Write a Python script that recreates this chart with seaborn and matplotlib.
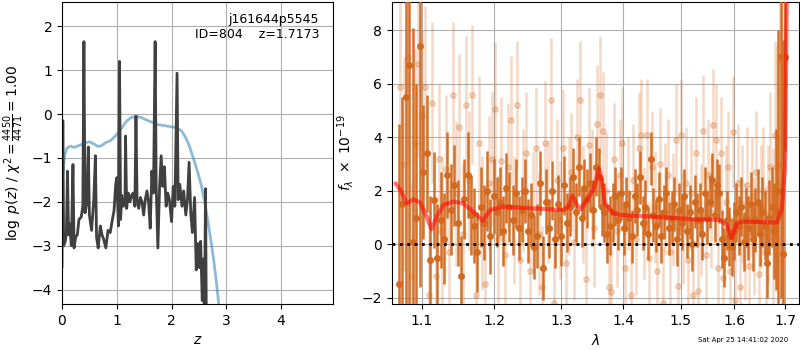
import numpy as np
import matplotlib
matplotlib.use("Agg")
import matplotlib.pyplot as plt
from matplotlib.ticker import NullLocator
import seaborn as sns

# p(z) curve (black) and chi2 curve (blue), left panel
pz_z = [0.00, 0.015, 0.03, 0.06, 0.08, 0.10, 0.12, 0.14, 0.17, 0.20, 0.22, 0.25, 0.28, 0.31,
        0.35, 0.38, 0.40, 0.42, 0.45, 0.48, 0.50, 0.54, 0.58, 0.61, 0.63, 0.66, 0.70, 0.73,
        0.76, 0.80, 0.84, 0.88, 0.92, 0.95, 0.98, 1.00, 1.03, 1.05, 1.07, 1.09, 1.12, 1.15,
        1.16, 1.18, 1.21, 1.24, 1.27, 1.30, 1.33, 1.35, 1.37, 1.40, 1.43, 1.46, 1.49, 1.52,
        1.55, 1.58, 1.61, 1.64, 1.67, 1.70, 1.72, 1.75, 1.78, 1.81, 1.84, 1.87, 1.90, 1.93,
        1.96, 2.00, 2.03, 2.06, 2.10, 2.12, 2.15, 2.19, 2.22, 2.26, 2.29, 2.32, 2.35, 2.38,
        2.42, 2.45, 2.48, 2.51, 2.53, 2.56, 2.58, 2.60, 2.62, 2.64, 2.67, 2.72]
pz_logp = [-3.5, -0.15, -3.0, -2.9, -2.7, -1.3, -2.75, -2.5, -3.0, -1.15, -3.05, -2.8, -2.75, -2.4,
           -2.35, -2.1, 1.65, -2.25, -2.05, -0.75, -2.3, -2.65, -1.95, -0.95, -2.8, -3.05, -2.55, -2.75,
           -2.85, -3.05, -2.65, -2.7, -2.4, -2.2, -1.6, -1.45, -2.55, 1.2, -2.4, -1.85, -2.1, -1.95,
           -0.5, -2.15, -1.8, -2.0, -1.85, -1.8, -2.1, -0.05, -1.95, -2.15, -1.9, -2.0, -2.3, -1.95,
           -1.75, -2.0, -2.6, -1.3, -1.8, 1.65, -1.7, -3.05, -1.7, -0.95, -1.65, -1.2, -2.1, -1.8,
           -1.95, -2.45, -1.65, -2.1, 0.93, -1.95, -1.6, -2.1, -1.75, -2.3, -1.95, -1.1, -2.25, -2.7,
           -1.9, -3.55, -2.95, -3.5, -2.9, -4.25, -3.3, -4.7, -1.7, -6.0, -9.0, -14.0]

chi_z = [0.0, 0.02, 0.05, 0.08, 0.12, 0.16, 0.22, 0.30, 0.40, 0.50, 0.58, 0.66, 0.72, 0.80,
         0.88, 0.95, 1.03, 1.10, 1.18, 1.26, 1.35, 1.45, 1.55, 1.65, 1.75, 1.85, 1.95, 2.05,
         2.13, 2.19, 2.25, 2.31, 2.37, 2.43, 2.49, 2.55, 2.61, 2.67, 2.72, 2.77, 2.82, 2.86,
         2.90, 2.95]
chi_val = [-1.5, -1.32, -0.95, -0.8, -0.75, -0.73, -0.76, -0.72, -0.67, -0.63, -0.68, -0.74, -0.72, -0.65,
           -0.61, -0.53, -0.42, -0.3, -0.16, -0.08, -0.05, -0.08, -0.14, -0.19, -0.24, -0.26, -0.28, -0.30,
           -0.34, -0.40, -0.52, -0.68, -0.9, -1.13, -1.38, -1.66, -2.05, -2.5, -2.9, -3.33, -3.85, -4.32,
           -4.8, -5.4]

# spectrum, right panel: two grism exposures (dark and light) and the model
dark_range = [1.070, 1.7002]
dark_flux = [-1.5, 1.5, 5.5, 6.7, 0.1, 1.0, 7.4, 2.7, 3.4, -0.6,
             1.65, -0.5, 0.9, 0.2, 2.6, 1.3, 2.2, 0.8, -1.2, 1.7,
             2.6, 1.1, 0.7, -0.3, 1.4, 0.8, 2.0, 0.3, 1.8, 1.2,
             1.6, 0.5, 2.1, 1.4, 0.9, 1.9, 0.6, 1.3, 2.0, 0.5,
             1.1, -0.1, 0.3, 2.3, -0.9, 1.6, 0.6, 2.0, 0.2, 1.5,
             0.3, 2.2, 0.8, 1.4, 2.5, 1.2, 2.9, 1.0, 2.1, 1.7,
             2.3, 1.3, 2.9, 2.5, 1.4, 1.2, 0.4, 0.7, 1.2, 1.8,
             0.9, 1.9, 0.6, 1.5, 1.0, 0.3, 1.8, 1.3, 2.5, 0.8,
             1.4, 0.4, 3.2, 1.1, 0.7, 1.7, 0.3, 1.2, 1.9, 0.6,
             1.0, 1.5, 0.2, 1.3, 0.8, 1.8, 0.5, 1.2, 0.0, 1.6,
             0.9, 1.3, 0.4, 1.9, 1.0, 1.6, 2.4, 1.1, 2.2, 1.9,
             0.2, -0.5, 0.9, 0.3, -0.1, 0.5, 1.2, 0.7, 1.4, 0.1,
             1.0, 0.6, 1.5, 0.2, 0.9, 1.6, 0.4, 1.2, 0.7, -0.7,
             1.0, 1.4, 0.5, 1.3, 2.0, 7.0, -0.35, 7.0]
dark_err = [6.0, 4.0, 9.0, 9.0, 8.0, 5.0, 9.0, 2.5, 2.2, 2.4,
            1.8, 2.0, 1.8, 1.7, 1.6, 1.7, 1.5, 1.6, 1.5, 1.5,
            1.6, 1.5, 1.4, 1.5, 1.5, 1.4, 1.5, 1.4, 1.4, 1.3,
            1.3, 1.3, 1.3, 1.3, 1.3, 1.3, 1.2, 1.2, 1.2, 1.2,
            1.2, 1.2, 1.2, 1.2, 1.2, 1.2, 1.1, 1.1, 1.1, 1.1,
            1.1, 1.1, 1.1, 1.1, 1.1, 1.1, 1.1, 1.1, 1.1, 1.1,
            1.1, 1.1, 1.1, 1.1, 1.1, 1.1, 1.1, 1.1, 1.1, 1.1,
            1.1, 1.0, 1.0, 1.0, 1.0, 1.0, 1.0, 1.0, 1.0, 1.0,
            1.0, 1.0, 1.0, 1.0, 1.0, 1.0, 1.0, 1.0, 1.0, 1.0,
            1.0, 1.0, 1.0, 1.0, 1.0, 1.0, 1.0, 1.0, 1.0, 1.0,
            1.0, 1.0, 1.0, 1.0, 1.0, 1.0, 1.0, 1.0, 1.0, 1.1,
            1.1, 1.1, 1.1, 1.1, 1.1, 1.1, 1.1, 1.1, 1.1, 1.1,
            1.1, 1.2, 1.2, 1.2, 1.2, 1.2, 1.2, 1.3, 1.3, 1.3,
            1.4, 1.5, 1.8, 3.0, 6.0, 9.0, 8.0, 3.5]

light_range = [1.0723, 1.6933]
light_flux = [5.9, 3.0, 7.0, -1.2, 3.8, 6.75, 4.8, 5.9, -1.9, 5.3,
              -1.2, 3.2, 0.5, 2.8, -0.3, 5.6, 1.9, 4.4, 0.4, 5.2,
              2.4, 5.6, -1.9, 3.8, 0.8, -1.5, 2.3, 3.2, 5.05, 0.2,
              3.1, -0.4, 2.9, 4.65, 0.9, 5.2, -0.6, 2.0, 3.4, -1.0,
              1.2, 3.6, 0.4, -1.6, 3.8, 1.6, 5.4, -2.2, 2.4, 0.9,
              3.6, -0.7, 1.8, 2.7, 0.1, 4.0, 5.4, 1.5, -1.3, 3.7,
              2.1, 0.6, 4.5, 5.6, 4.25, 2.0, -1.6, -1.8, 3.2, 0.5,
              2.6, 3.8, -0.9, 1.9, -1.9, 2.4, 0.2, 3.6, 4.1, 0.8,
              4.1, -0.5, 2.9, 1.4, -1.0, 3.0, -2.2, 1.7, 2.6, -0.3,
              1.3, 3.9, -1.55, 4.1, 0.6, 2.3, -0.6, 1.9, -1.9, 3.4,
              -1.75, 0.9, 4.25, -0.4, 2.6, 1.2, 4.45, 3.9, -0.9, 3.4,
              -1.25, 1.6, 2.9, -1.0, 4.2, -2.1, 2.3, -1.6, 1.5, 0.1,
              2.2, -0.8, 1.8, 0.3, 2.7, -1.1, 1.4, 2.0, -0.3, 1.1,
              2.9, 0.6, 4.1, 2.9, 6.9, 3.0]
light_err = [4.0, 4.0, 4.0, 3.5, 3.5, 3.5, 3.2, 3.0, 3.0, 3.0,
             3.0, 2.8, 2.8, 2.8, 2.7, 2.7, 2.7, 2.7, 2.6, 2.6,
             2.6, 2.6, 2.5, 2.5, 2.5, 2.5, 2.5, 2.5, 2.5, 2.4,
             2.4, 2.4, 2.4, 2.4, 2.4, 2.4, 2.4, 2.3, 2.3, 2.3,
             2.3, 2.3, 2.3, 2.3, 2.3, 2.3, 2.3, 2.3, 2.3, 2.2,
             2.2, 2.2, 2.2, 2.2, 2.2, 2.2, 2.2, 2.2, 2.2, 2.2,
             2.2, 2.2, 2.2, 2.2, 2.2, 2.2, 2.1, 2.1, 2.1, 2.1,
             2.1, 2.1, 2.1, 2.1, 2.1, 2.1, 2.1, 2.1, 2.1, 2.1,
             2.1, 2.1, 2.1, 2.1, 2.1, 2.1, 2.1, 2.1, 2.1, 2.1,
             2.1, 2.1, 2.1, 2.1, 2.1, 2.1, 2.1, 2.1, 2.1, 2.1,
             2.1, 2.1, 2.1, 2.1, 2.1, 2.1, 2.1, 2.1, 2.1, 2.1,
             2.1, 2.1, 2.1, 2.1, 2.1, 2.2, 2.2, 2.2, 2.2, 2.2,
             2.2, 2.2, 2.2, 2.2, 2.3, 2.3, 2.3, 2.4, 2.5, 2.6,
             2.8, 3.0, 3.5, 4.5, 6.0, 8.0]

model_wave = [1.066, 1.073, 1.0804, 1.089, 1.098, 1.1065, 1.113, 1.120, 1.129, 1.1424,
              1.156, 1.170, 1.1834, 1.194, 1.213, 1.2524, 1.3034, 1.311, 1.318, 1.325,
              1.331, 1.3405, 1.351, 1.3604, 1.3647, 1.370, 1.3838, 1.395, 1.469, 1.529,
              1.5727, 1.5853, 1.5947, 1.6044, 1.617, 1.6832, 1.693, 1.700, 1.7035]
model_flux = [2.28, 2.0, 1.53, 1.68, 1.56, 1.03, 0.56, 1.03, 1.47, 1.6,
              1.53, 1.22, 0.88, 1.28, 1.41, 1.35, 1.28, 1.41, 1.81, 1.47,
              1.31, 1.66, 2.03, 2.84, 2.4, 1.53, 1.16, 1.1, 1.01, 0.93,
              0.91, 0.72, 0.22, 0.79, 0.85, 0.81, 1.28, 2.9, 9.5]

wave_ticks = [1.1, 1.2, 1.3, 1.4, 1.5, 1.6, 1.7]

dark_wave = np.linspace(dark_range[0], dark_range[1], len(dark_flux))
light_wave = np.linspace(light_range[0], light_range[1], len(light_flux))

sns.set_style("ticks")
plt.rcParams["axes.edgecolor"] = "black"
plt.rcParams["xtick.color"] = "black"
plt.rcParams["ytick.color"] = "black"
plt.rcParams["text.color"] = "black"
plt.rcParams["axes.labelcolor"] = "black"

fig = plt.figure(figsize=(8, 3.5), dpi=100)
ax1 = fig.add_axes([0.0775, 0.131, 0.339, 0.863])
ax2 = fig.add_axes([0.49, 0.131, 0.509, 0.863])

# left: redshift probability
sns.lineplot(x=chi_z, y=chi_val, ax=ax1, color="#1f77b4", alpha=0.5, linewidth=2)
sns.lineplot(x=pz_z, y=pz_logp, ax=ax1, color="#404040", linewidth=2)
ax1.set_xlim(0, 4.95)
ax1.set_ylim(-4.33, 2.55)
ax1.set_xticks([0, 1, 2, 3, 4])
ax1.set_yticks([-4, -3, -2, -1, 0, 1, 2])
ax1.grid(True, color="#b0b0b0", linewidth=0.8)
ax1.set_xlabel(r"$z$")
ax1.set_ylabel(r"$\log\ p(z)$ / $\chi^2=\frac{4450}{4471}=1.00$")
ax1.text(0.948, 0.965, "j161644p5545\nID=804    z=1.7173", transform=ax1.transAxes,
         ha="right", va="top", fontsize=9)

# right: spectrum
spec_color = "#d2691e"
ax2.errorbar(light_wave, light_flux, yerr=light_err, fmt="o", color=spec_color, alpha=0.25,
             markersize=4, elinewidth=1.8, linewidth=0, zorder=2)
ax2.errorbar(dark_wave, dark_flux, yerr=dark_err, fmt="o", color=spec_color, alpha=0.95,
             markersize=4, elinewidth=1.8, linewidth=0, zorder=3)
sns.lineplot(x=model_wave, y=model_flux, ax=ax2, color="red", alpha=0.55, linewidth=3, zorder=4)
ax2.axhline(0, color="black", linestyle=":", linewidth=2, zorder=5)

ax2.set_xscale("log")
ax2.set_xlim(1.0615, 1.729)
ax2.set_xticks(wave_ticks)
ax2.set_xticklabels([f"{t:.1f}" for t in wave_ticks])
ax2.xaxis.set_minor_locator(NullLocator())
ax2.set_ylim(-2.24, 9.06)
ax2.set_yticks([-2, 0, 2, 4, 6, 8])
ax2.grid(True, color="#b0b0b0", linewidth=0.8)
ax2.set_axisbelow(True)
ax1.set_axisbelow(True)
ax2.set_xlabel(r"$\lambda$")
ax2.set_ylabel(r"$f_\lambda\ \times\ 10^{-19}$")

fig.text(0.985, 0.02, "Sat Apr 25 14:41:02 2020", ha="right", va="bottom", fontsize=5)

fig.savefig("out.png", dpi=100)
